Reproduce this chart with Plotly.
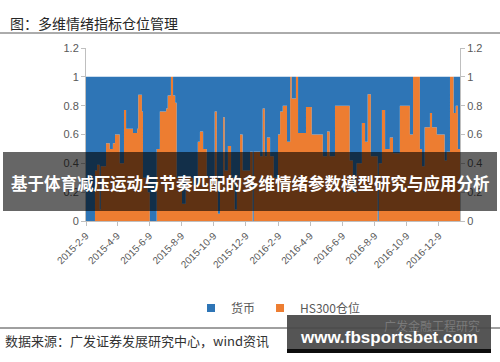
import plotly.graph_objects as go

# ---- data ----
dates = [
    "2015-02-09", "2015-02-26", "2015-03-02", "2015-03-07", "2015-03-09", "2015-03-19",
    "2015-03-26", "2015-04-01", "2015-04-05", "2015-04-14", "2015-04-22", "2015-04-26",
    "2015-05-09", "2015-05-17", "2015-05-19", "2015-05-26", "2015-05-28", "2015-06-06",
    "2015-06-10", "2015-06-23", "2015-06-29", "2015-07-11", "2015-07-14", "2015-07-20",
    "2015-07-24", "2015-07-28", "2015-07-31", "2015-08-10", "2015-08-17", "2015-08-31",
    "2015-09-09", "2015-09-13", "2015-09-19", "2015-09-26", "2015-10-11", "2015-10-15",
    "2015-10-17", "2015-10-21", "2015-10-27", "2015-10-30", "2015-11-05", "2015-11-11",
    "2015-11-18", "2015-11-22", "2015-11-28", "2015-12-03", "2015-12-17", "2015-12-22",
    "2015-12-24", "2016-01-05", "2016-01-10", "2016-01-14", "2016-01-18", "2016-01-24",
    "2016-01-31", "2016-02-08", "2016-02-12", "2016-02-17", "2016-02-25", "2016-03-02",
    "2016-03-05", "2016-03-13", "2016-03-17", "2016-04-01", "2016-04-12", "2016-05-03",
    "2016-05-11", "2016-05-16", "2016-05-26", "2016-06-23", "2016-06-29", "2016-07-06",
    "2016-07-16", "2016-07-22", "2016-07-27", "2016-08-02", "2016-08-13", "2016-08-15",
    "2016-08-17", "2016-08-23", "2016-08-29", "2016-09-07", "2016-09-13", "2016-09-26",
    "2016-10-15", "2016-10-21", "2016-11-03", "2016-11-07", "2016-11-12", "2016-11-22",
    "2016-11-26", "2016-12-05", "2016-12-20", "2016-12-24", "2016-12-30", "2017-01-06",
    "2017-01-10", "2017-01-14", "2017-01-18",
]
hs300 = [
    0.00, 0.35, 0.39, 0.08, 0.38, 0.54,
    0.50, 0.54, 0.60, 0.40, 0.77, 0.64,
    0.61, 0.64, 0.875, 0.76, 0.30, 0.20,
    0.00, 0.50, 0.76, 0.78, 0.87, 1.00,
    0.87, 0.82, 0.30, 0.12, 0.30, 0.25,
    0.55, 0.62, 0.50, 0.30, 0.76, 0.30,
    0.05, 0.30, 0.72, 0.35, 0.52, 0.30,
    0.08, 0.30, 0.60, 0.35, 0.48, 0.00,
    0.48, 0.45, 0.78, 0.45, 0.58, 0.45,
    0.30, 0.60, 0.76, 0.80, 0.55, 1.00,
    0.85, 1.00, 0.61, 0.79, 0.60, 0.45,
    0.62, 0.45, 0.80, 0.42, 0.20, 0.40,
    0.68, 0.55, 0.88, 0.45, 0.45, 0.00,
    0.40, 0.77, 0.50, 0.58, 0.47, 0.80,
    0.60, 1.00, 0.50, 0.38, 0.65, 0.75,
    0.65, 0.60, 0.42, 0.48, 1.00, 0.75,
    0.80, 0.50, 0.50,
]
cash = [round(1 - v, 3) for v in hs300]

tick_vals = ["2015-02-09", "2015-04-09", "2015-06-09", "2015-08-09", "2015-10-09", "2015-12-09",
             "2016-02-09", "2016-04-09", "2016-06-09", "2016-08-09", "2016-10-09", "2016-12-09"]
tick_text = ["2015-2-9", "2015-4-9", "2015-6-9", "2015-8-9", "2015-10-9", "2015-12-9",
             "2016-2-9", "2016-4-9", "2016-6-9", "2016-8-9", "2016-10-9", "2016-12-9"]

names = ["货币", "HS300仓位"]
BLUE = "#2E75B6"
ORANGE = "#ED7D31"

# ---- layout helpers (pixel -> paper) ----
L, R, T, B = 86, 40, 48, 141
W, H = 500, 362
PW, PH = W - L - R, H - T - B
def px(x):
    return (x - L) / PW
def py(y):
    return (H - B - y) / PH

fig = go.Figure()
fig.add_trace(go.Scatter(x=dates, y=hs300, name=names[1], stackgroup="one",
                         mode="lines", line=dict(width=0, shape="hv", color=ORANGE),
                         fillcolor=ORANGE, showlegend=False, hoverinfo="skip"))
fig.add_trace(go.Scatter(x=dates, y=cash, name=names[0], stackgroup="one",
                         mode="lines", line=dict(width=0, shape="hv", color=BLUE),
                         fillcolor=BLUE, showlegend=False, hoverinfo="skip"))
# legend entries
fig.add_trace(go.Scatter(x=[None], y=[None], mode="markers", name=names[0],
                         marker=dict(symbol="square", size=8, color=BLUE)))
fig.add_trace(go.Scatter(x=[None], y=[None], mode="markers", name=names[1],
                         marker=dict(symbol="square", size=8, color=ORANGE)))
# right axis carrier
fig.add_trace(go.Scatter(x=[dates[0]], y=[0], yaxis="y2", mode="markers",
                         marker=dict(opacity=0), showlegend=False, hoverinfo="skip"))

axis_font = dict(family="Liberation Sans, Arial, sans-serif", size=11, color="#595959")
fig.update_layout(
    width=W, height=H,
    margin=dict(l=L, r=R, t=T, b=B),
    paper_bgcolor="white", plot_bgcolor="white",
    xaxis=dict(type="date", range=["2015-02-09", "2017-01-18"],
               tickmode="array", tickvals=tick_vals, ticktext=tick_text,
               tickangle=-45, tickfont=dict(family="Liberation Sans, Arial, sans-serif", size=10, color="#595959"),
               showgrid=False, showline=True, linecolor="#BFBFBF", ticks="outside",
               ticklen=4, tickcolor="#BFBFBF", zeroline=False),
    yaxis=dict(range=[0, 1.2], dtick=0.2, tick0=0, showgrid=False, showline=True,
               linecolor="#BFBFBF", ticks="outside", ticklen=4, tickcolor="#BFBFBF",
               tickfont=axis_font, zeroline=False),
    yaxis2=dict(range=[0, 1.2], dtick=0.2, tick0=0, overlaying="y", side="right",
                showgrid=False, showline=True, linecolor="#BFBFBF", ticks="outside",
                ticklen=4, tickcolor="#BFBFBF", tickfont=axis_font, zeroline=False),
    legend=dict(orientation="h", x=px(278), xanchor="center", y=py(308), yanchor="middle",
                traceorder="normal",
                font=dict(family="Noto Sans CJK SC, sans-serif", size=12, color="#595959"),
                itemwidth=30, bgcolor="rgba(0,0,0,0)"),
    showlegend=True,
)

shapes = [
    dict(type="line", xref="paper", yref="paper", x0=px(0), x1=px(500), y0=py(33), y1=py(33),
         line=dict(color="#595959", width=1)),
    dict(type="line", xref="paper", yref="paper", x0=px(0), x1=px(500), y0=py(328), y1=py(328),
         line=dict(color="#404040", width=1)),
    dict(type="rect", xref="paper", yref="paper", x0=px(3), x1=px(497), y0=py(211), y1=py(152),
         fillcolor="rgba(0,0,0,0.6)", line=dict(width=0), layer="above"),
    dict(type="rect", xref="paper", yref="paper", x0=px(287), x1=px(491), y0=py(353), y1=py(315),
         fillcolor="rgba(70,70,70,0.92)", line=dict(width=0), layer="above"),
    dict(type="rect", xref="paper", yref="paper", x0=px(287), x1=px(491), y0=py(353), y1=py(349),
         fillcolor="rgba(10,10,10,0.95)", line=dict(width=0), layer="above"),
]
fig.update_layout(shapes=shapes)

annotations = [
    dict(text="图：多维情绪指标仓位管理", x=px(8), y=py(22.5), xref="paper", yref="paper",
         xanchor="left", yanchor="middle", showarrow=False,
         font=dict(family="Noto Sans CJK SC, sans-serif", size=14, color="#262626")),
    dict(text="数据来源：广发证券发展研究中心，wind资讯", x=px(3), y=py(340), xref="paper", yref="paper",
         xanchor="left", yanchor="middle", showarrow=False,
         font=dict(family="Noto Sans CJK SC, sans-serif", size=13, color="#333333")),
    dict(text="<b>基于体育减压运动与节奏匹配的多维情绪参数模型研究与应用分析</b>", x=px(250), y=py(183),
         xref="paper", yref="paper", xanchor="center", yanchor="middle", showarrow=False,
         font=dict(family="Noto Sans CJK SC, sans-serif", size=16.5, color="white")),
    dict(text="广发金融工程研究", x=px(432), y=py(325), xref="paper", yref="paper",
         xanchor="center", yanchor="middle", showarrow=False,
         font=dict(family="Noto Sans CJK SC, sans-serif", size=12, color="rgba(170,170,170,0.45)")),
    dict(text="<b>www.fbsportsbet.com</b>", x=px(389), y=py(337), xref="paper", yref="paper",
         xanchor="center", yanchor="middle", showarrow=False,
         font=dict(family="Liberation Sans, Arial, sans-serif", size=17, color="white")),
]
fig.update_layout(annotations=annotations)

fig.write_html("out.html", config={"displayModeBar": False},
               post_script="document.body.style.margin='0';document.body.style.padding='0';")
